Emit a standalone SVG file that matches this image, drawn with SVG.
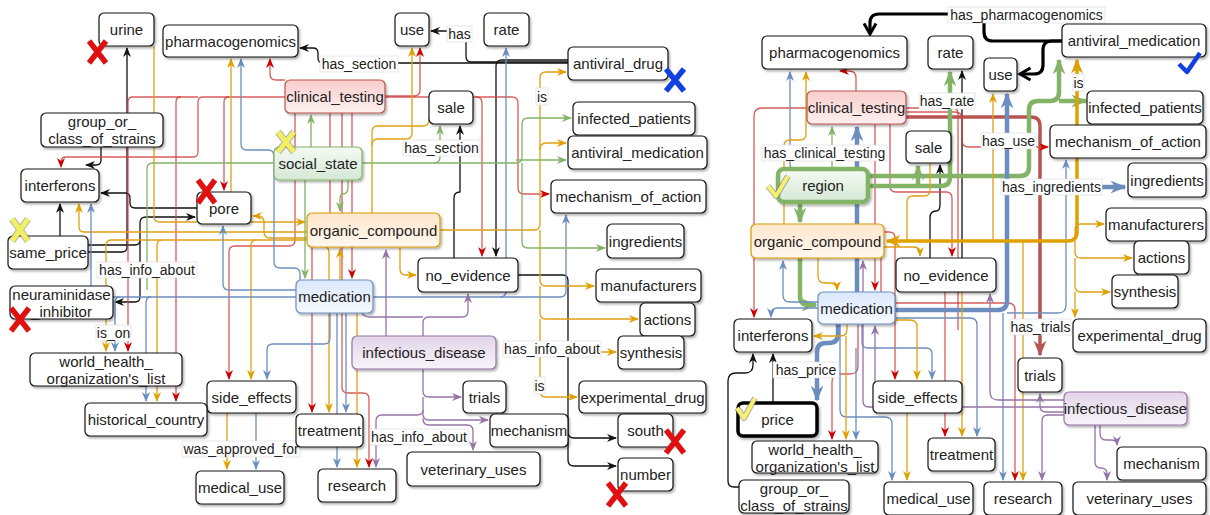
<svg xmlns="http://www.w3.org/2000/svg" width="1210" height="515" viewBox="0 0 1210 515">
<style>
.n rect{fill:#fff;stroke:#111;stroke-width:1.2;filter:url(#sh)}
.n text,.lb text{font-family:"Liberation Sans",Arial,sans-serif;fill:#222;text-anchor:middle;dominant-baseline:central}
.n text{font-size:15px}
.lb text{font-size:14px}
.lb rect{fill:#fff;stroke:#d8d8d8;stroke-width:.6}
.e{fill:none;stroke-width:1.3;stroke-linejoin:round}
.k{stroke:#111;marker-end:url(#mk)}
.r{stroke:#D04040;stroke-opacity:.85;marker-end:url(#mr)}
.o{stroke:#E0A010;marker-end:url(#mo)}
.b{stroke:#6C8EBF;marker-end:url(#mb)}
.g{stroke:#82B366;marker-end:url(#mg)}
.p{stroke:#9673A6;marker-end:url(#mp)}
.nm{marker-end:none}
.K3{stroke:#000;stroke-width:3.2;marker-end:url(#MK)}
.G4{stroke:#82B366;stroke-width:4.5;marker-end:url(#MG)}
.B4{stroke:#6C8EBF;stroke-width:4.5;marker-end:url(#MB)}
.R3{stroke:#B85450;stroke-width:3.5;marker-end:url(#MR)}
.O3{stroke:#E0A000;stroke-width:3.5;marker-end:url(#MO);marker-start:url(#MOs)}
.red rect{fill:url(#gr);stroke:#B85450}
.grn rect{fill:url(#gg);stroke:#82B366}
.org rect{fill:url(#go);stroke:#D79B00}
.blu rect{fill:url(#gb);stroke:#6C8EBF}
.pur rect{fill:url(#gp);stroke:#9673A6}
.xr{stroke:#E01010;stroke-width:5.5;stroke-linecap:butt}
.xb{stroke:#1040E0;stroke-width:5.5}
.xy{stroke:#F2F060;stroke-width:5}
.xo{stroke:#666;stroke-width:7;opacity:.5}
</style>
<defs>
<filter id="sh" x="-20%" y="-20%" width="140%" height="150%"><feDropShadow dx="1.5" dy="2" stdDeviation="1.2" flood-color="#000" flood-opacity="0.3"/></filter>
<linearGradient id="gr" x1="0" y1="0" x2="0" y2="1"><stop offset="0" stop-color="#F8CECC"/><stop offset="1" stop-color="#FDF0EF"/></linearGradient>
<linearGradient id="gg" x1="0" y1="0" x2="0" y2="1"><stop offset="0" stop-color="#F4FAF3"/><stop offset="1" stop-color="#D5E8D4"/></linearGradient>
<linearGradient id="go" x1="0" y1="0" x2="0" y2="1"><stop offset="0" stop-color="#FFE6CC"/><stop offset="1" stop-color="#FFF8F0"/></linearGradient>
<linearGradient id="gb" x1="0" y1="0" x2="0" y2="1"><stop offset="0" stop-color="#DAE8FC"/><stop offset="1" stop-color="#F7FAFF"/></linearGradient>
<linearGradient id="gp" x1="0" y1="0" x2="0" y2="1"><stop offset="0" stop-color="#E1D5E7"/><stop offset="1" stop-color="#F8F4FA"/></linearGradient>
<marker id="mk" viewBox="0 0 10 8" refX="9" refY="4" markerWidth="10" markerHeight="8" markerUnits="userSpaceOnUse" orient="auto"><path d="M0,0 L10,4 L0,8 L3,4 z" fill="#111"/></marker>
<marker id="mr" viewBox="0 0 10 8" refX="9" refY="4" markerWidth="10" markerHeight="8" markerUnits="userSpaceOnUse" orient="auto"><path d="M0,0 L10,4 L0,8 L3,4 z" fill="#CC0000"/></marker>
<marker id="mo" viewBox="0 0 10 8" refX="9" refY="4" markerWidth="10" markerHeight="8" markerUnits="userSpaceOnUse" orient="auto"><path d="M0,0 L10,4 L0,8 L3,4 z" fill="#E0A000"/></marker>
<marker id="mb" viewBox="0 0 10 8" refX="9" refY="4" markerWidth="10" markerHeight="8" markerUnits="userSpaceOnUse" orient="auto"><path d="M0,0 L10,4 L0,8 L3,4 z" fill="#6C8EBF"/></marker>
<marker id="mg" viewBox="0 0 10 8" refX="9" refY="4" markerWidth="10" markerHeight="8" markerUnits="userSpaceOnUse" orient="auto"><path d="M0,0 L10,4 L0,8 L3,4 z" fill="#82B366"/></marker>
<marker id="mp" viewBox="0 0 10 8" refX="9" refY="4" markerWidth="10" markerHeight="8" markerUnits="userSpaceOnUse" orient="auto"><path d="M0,0 L10,4 L0,8 L3,4 z" fill="#9673A6"/></marker>
<marker id="MK" viewBox="0 0 10 10" refX="8" refY="5" markerWidth="15" markerHeight="15" markerUnits="userSpaceOnUse" orient="auto"><path d="M1,1 L8,5 L1,9" fill="none" stroke="#000" stroke-width="2"/></marker>
<marker id="MG" viewBox="0 0 10 8" refX="9" refY="4" markerWidth="16" markerHeight="13" markerUnits="userSpaceOnUse" orient="auto"><path d="M0,0 L10,4 L0,8 L3,4 z" fill="#82B366"/></marker>
<marker id="MB" viewBox="0 0 10 8" refX="9" refY="4" markerWidth="16" markerHeight="13" markerUnits="userSpaceOnUse" orient="auto"><path d="M0,0 L10,4 L0,8 L3,4 z" fill="#6C8EBF"/></marker>
<marker id="MR" viewBox="0 0 10 8" refX="9" refY="4" markerWidth="16" markerHeight="13" markerUnits="userSpaceOnUse" orient="auto"><path d="M0,0 L10,4 L0,8 L3,4 z" fill="#B85450"/></marker>
<marker id="MO" viewBox="0 0 10 8" refX="9" refY="4" markerWidth="15" markerHeight="12" markerUnits="userSpaceOnUse" orient="auto"><path d="M0,0 L10,4 L0,8 L3,4 z" fill="#E0A000"/></marker>
<marker id="MOs" viewBox="0 0 10 8" refX="1" refY="4" markerWidth="15" markerHeight="12" markerUnits="userSpaceOnUse" orient="auto"><path d="M10,0 L0,4 L10,8 L7,4 z" fill="#E0A000"/></marker>
</defs>
<rect width="1210" height="515" fill="#fff"/>

<g id="connectors">
<!-- LEFT black -->
<path class="e k" d="M568,63 H323 Q318,63 318,58 V53 Q318,48 313,48 H300"/>
<path class="e k" d="M568,62 H471 Q466,62 466,56 V36 Q466,31 460,31 H431"/>
<path class="e k" d="M568,60 H502 Q496,60 496,66 V256"/>
<path class="e k" d="M454,258 V198 Q454,192 460,192 V126"/>
<path class="e k" d="M60,236 V204"/>
<path class="e k" d="M88,245 H135 Q140,245 140,240 V223 Q140,217 146,217 H195"/>
<path class="e k" d="M197,208 H135 Q130,208 130,203 V198 Q130,193 125,193 H101"/>
<path class="e k" d="M101,147 V160 Q101,165 96,165 H86"/>
<path class="e k" d="M88,252 H122 Q127,252 127,247 V48"/>
<path class="e k" d="M140,240 V297 Q140,302 135,302 H115"/>
<path class="e k" d="M518,275 H563 Q568,275 568,281 V432 Q568,438 574,438 H616"/>
<path class="e k" d="M568,438 V460 Q568,466 574,466 H616"/>
<!-- LEFT red -->
<path class="e r" d="M385,96 H414 Q420,96 420,90 V48"/>
<path class="e r" d="M285,80 H276 Q270,80 270,74 V59"/>
<path class="e r" d="M285,97 H203 Q198,97 198,102 V152 Q198,157 193,157 H66 Q61,157 61,162 V167"/>
<path class="e r" d="M198,97 H133 Q128,97 128,102 V351"/>
<path class="e r" d="M181,97 Q176,97 176,102 V401"/>
<path class="e r" d="M229,97 Q224,97 224,102 V190"/>
<path class="e r" d="M295,113 V240 Q295,246 289,246 H235 Q229,246 229,252 V379"/>
<path class="e r" d="M352,113 V278"/>
<path class="e r" d="M385,97 H512 Q518,97 518,103 V188 Q518,194 524,194 H549"/>
<path class="e r" d="M476,97 Q482,97 482,103 V256"/>
<path class="e r" d="M330,113 V230 Q330,236 324,236 H318 Q312,236 312,242 V412"/>
<path class="e r" d="M342,113 V387 Q342,393 348,393 H363 Q369,393 369,399 V467"/>
<!-- LEFT orange -->
<path class="e o" d="M372,213 V145 Q372,139 378,139 H406 Q412,139 412,133 V48"/>
<path class="e o nm" d="M372,145 V132 Q372,126 378,126 H423 Q429,126 429,120 V118"/>
<path class="e o" d="M440,230 H534 Q540,230 540,224 V78 Q540,72 546,72 H566"/>
<path class="e o" d="M540,150 Q540,143 546,143 H566"/>
<path class="e o" d="M540,230 V280 Q540,286 546,286 H594"/>
<path class="e o" d="M540,286 V313 Q540,319 546,319 H638"/>
<path class="e o" d="M540,319 V346 Q540,352 546,352 H616"/>
<path class="e o" d="M540,352 V391 Q540,397 546,397 H577"/>
<path class="e o" d="M400,247 V269 Q400,275 406,275 H416"/>
<path class="e o" d="M307,232 H84 Q79,232 79,227 V204"/>
<path class="e o" d="M251,222 H305"/>
<path class="e o" d="M307,238 H270 Q264,238 264,232 V222 Q264,216 258,216 H253"/>
<path class="e o" d="M231,192 V59"/>
<path class="e o nm" d="M154,46 V217 Q154,222 160,222 H197"/>
<path class="e o" d="M307,240 H111 Q106,240 106,246 V351"/>
<path class="e o" d="M162,240 Q157,240 157,246 V401"/>
<path class="e o" d="M256,240 Q251,240 251,246 V379"/>
<path class="e o" d="M325,247 Q329,247 329,253 V412"/>
<path class="e o" d="M357,313 V467"/>
<path class="e o" d="M340,280 V249"/>
<path class="e o" d="M227,413 V469"/>
<!-- LEFT blue -->
<path class="e b" d="M300,280 V274 Q300,268 294,268 H280 Q274,268 274,262 V156 Q274,150 268,150 H247 Q241,150 241,144 V59"/>
<path class="e b" d="M296,297 H151 Q146,297 146,303 V401"/>
<path class="e b" d="M151,297 H120 Q115,297 115,303 V351"/>
<path class="e b" d="M120,297 H96 Q91,297 91,291 V204"/>
<path class="e b" d="M373,297 H500 Q506,297 506,291 V48"/>
<path class="e b" d="M500,297 H560 Q566,297 566,291 V215"/>
<path class="e b" d="M296,290 H229 Q223,290 223,284 V226"/>
<path class="e b" d="M330,313 V338 Q330,344 324,344 H273 Q267,344 267,350 V379"/>
<path class="e b" d="M346,313 V412"/>
<path class="e b" d="M337,313 V467"/>
<path class="e b" d="M256,413 V469"/>
<!-- LEFT green -->
<path class="e g" d="M311,147 V115"/>
<path class="e g" d="M305,180 V278"/>
<path class="e g" d="M348,180 V188 Q348,194 342,194 Q340,194 340,200 V211"/>
<path class="e g" d="M362,163 H434 Q440,163 440,157 V126"/>
<path class="e g" d="M434,163 H516 Q522,163 522,157 V124 Q522,118 528,118 H571"/>
<path class="e g" d="M516,160 H566"/>
<path class="e g" d="M522,163 V242 Q522,248 528,248 H605"/>
<path class="e g nm" d="M274,163 H153 Q147,163 147,169 V290"/>
<!-- LEFT purple -->
<path class="e p" d="M386,336 V250"/>
<path class="e p" d="M423,336 V323 Q423,317 429,317 H462 Q468,317 468,311 V294"/>
<path class="e p nm" d="M423,317 H370 Q364,317 362,313"/>
<path class="e p" d="M423,369 V391 Q423,397 429,397 H461"/>
<path class="e p" d="M423,397 V414 Q423,420 429,420 H488"/>
<path class="e p" d="M423,420 V419 Q423,425 429,425 H467 Q473,425 473,431 V450"/>
<path class="e p" d="M423,410 Q423,415 417,415 H382 Q376,415 376,421 V467"/>

<!-- RIGHT black -->
<path class="e K3" d="M1062,41 H993 Q984,41 984,32 V23 Q984,14 975,14 H879 Q870,14 870,23 V34"/>
<path class="e K3" d="M1062,41 H1052 Q1043,41 1043,50 V65 Q1043,74 1034,74 H1020"/>
<path class="e k" d="M739,487 H734 Q728,487 728,481 V381 Q728,373 736,373 H745 Q753,373 753,365 V354"/>
<path class="e k" d="M773,403 V354"/>
<path class="e k" d="M930,258 V218 Q930,211 936,211 Q940,211 940,205 V165"/>
<path class="e k" d="M962,258 V71"/>
<!-- RIGHT red -->
<path class="e R3" d="M906,117 H1031 Q1040,117 1040,126 V355"/>
<path class="e r" d="M856,91 V78 Q856,71 849,71 H840"/>
<path class="e r" d="M807,108 H762 Q754,108 754,116 V317"/>
<path class="e r nm" d="M906,108 H952 Q958,108 958,114 V330"/>
<path class="e r" d="M906,112 H955 Q962,112 962,119 V140 Q962,147 969,147 H1048"/>
<path class="e r" d="M890,124 V186 Q890,192 896,192 H946 Q952,192 952,198 V256"/>
<path class="e r" d="M875,124 V290"/>
<path class="e r" d="M884,236 Q881,236 881,243 V297 Q881,303 887,303 H1008 Q1015,303 1015,310 V480"/>
<path class="e r" d="M884,232 H889 Q895,232 895,238 V379"/>
<path class="e r" d="M858,324 V366 Q858,374 850,374 H840 Q832,374 832,382 V439"/>
<path class="e r" d="M945,292 V436"/>
<!-- RIGHT green -->
<path class="e G4" d="M868,176 H1020 Q1029,176 1029,167 V110 Q1029,101 1038,101 H1050 Q1059,101 1059,92 V60"/>
<path class="e G4" d="M1059,101 H1086"/>
<path class="e G4" d="M868,186 H941 Q950,186 950,177 V72"/>
<path class="e G4" d="M918,186 V166"/>
<path class="e G4" d="M800,202 V222"/>
<path class="e G4" d="M800,258 V296 Q800,305 809,305 H816"/>
<path class="e g" d="M832,169 V127"/>
<!-- RIGHT blue -->
<path class="e B4" d="M857,292 V127"/>
<path class="e B4" d="M895,310 H998 Q1007,310 1007,301 V94"/>
<path class="e B4" d="M1007,187 H1125"/>
<path class="e B4" d="M838,324 V334 Q838,343 829,343 H826 Q817,343 817,352 V400"/>
<path class="e b" d="M857,170 H796 Q790,170 790,164 V72"/>
<path class="e b" d="M818,302 H790 Q783,302 783,295 V261"/>
<path class="e b" d="M818,308 H778 Q771,308 771,314 V317"/>
<path class="e b" d="M1007,313 H1058 Q1066,313 1066,305 V160"/>
<path class="e b" d="M895,318 H970 Q977,318 977,325 V436"/>
<path class="e b" d="M862,324 V342 Q862,348 868,348 H926 Q932,348 932,354 V379"/>
<path class="e b" d="M856,348 V439"/>
<path class="e b" d="M840,324 V410 Q840,417 847,417 H885 Q892,417 892,424 V480"/>
<path class="e b" d="M1003,313 V480"/>
<!-- RIGHT orange -->
<path class="e O3" d="M887,241 H1068 Q1077,241 1077,232 V60"/>
<path class="e o" d="M784,224 V146 Q784,140 790,140 H800 Q806,140 806,134 V72"/>
<path class="e o" d="M884,247 H913 Q920,247 920,252 V256"/>
<path class="e o" d="M993,241 V94"/>
<path class="e o" d="M1070,241 Q1075,241 1075,235 V230 Q1075,224 1081,224 H1104"/>
<path class="e o" d="M1075,241 V252 Q1075,258 1081,258 H1132"/>
<path class="e o" d="M1075,258 V286 Q1075,292 1081,292 H1110"/>
<path class="e o" d="M1075,292 V317"/>
<path class="e o" d="M1023,241 V480"/>
<path class="e o" d="M962,292 V436"/>
<path class="e o" d="M818,258 V276 Q818,283 825,283 H830 Q837,283 837,290"/>
<path class="e o" d="M847,324 V330 Q847,336 840,336 H814"/>
<path class="e o" d="M846,336 V439"/>
<path class="e o" d="M895,320 H910 Q917,320 917,327 V379"/>
<path class="e o" d="M907,413 V480"/>
<path class="e o nm" d="M930,163 V190 Q930,196 924,196 H913 Q907,196 907,202 V241"/>
<!-- RIGHT purple -->
<path class="e p" d="M1064,407 H869 Q863,407 863,401 V261"/>
<path class="e p" d="M875,407 V326"/>
<path class="e p" d="M1064,400 H998 Q990,400 990,392 V294"/>
<path class="e p" d="M1064,412 H1046 Q1040,412 1040,406 V394"/>
<path class="e p" d="M1064,415 H1048 Q1042,415 1042,421 V480"/>
<path class="e p" d="M1100,425 V433 Q1100,440 1106,440 H1111 Q1117,440 1117,445"/>
<path class="e p" d="M1095,425 V462 Q1095,468 1101,468 Q1107,468 1107,474 V480"/>

<!-- edge labels -->
<g class="lb">
<rect x="320" y="56" width="78" height="16"/><text x="359" y="64">has_section</text>
<rect x="447" y="26" width="25" height="16"/><text x="459.5" y="34">has</text>
<rect x="536" y="88" width="12" height="17"/><text x="542" y="96.5">is</text>
<rect x="403" y="140" width="77" height="16"/><text x="441.5" y="148">has_section</text>
<rect x="97" y="262" width="100" height="16"/><text x="147" y="270">has_info_about</text>
<rect x="96" y="325" width="35" height="16"/><text x="113.5" y="333">is_on</text>
<rect x="503" y="341" width="98" height="16"/><text x="552" y="349">has_info_about</text>
<rect x="534" y="377" width="11" height="17"/><text x="539.5" y="385.5">is</text>
<rect x="370" y="429" width="98" height="16"/><text x="419" y="437">has_info_about</text>
<rect x="182" y="441" width="118" height="16"/><text x="241" y="449">was_approved_for</text>
<rect x="948" y="7" width="157" height="16"/><text x="1026.5" y="15">has_pharmacogenomics</text>
<rect x="919" y="93" width="56" height="16"/><text x="947" y="101">has_rate</text>
<rect x="981" y="133" width="55" height="16"/><text x="1008.5" y="141">has_use</text>
<rect x="762" y="145" width="125" height="16"/><text x="824.5" y="153">has_clinical_testing</text>
<rect x="1001" y="179" width="101" height="16"/><text x="1051.5" y="187">has_ingredients</text>
<rect x="1073" y="74" width="11" height="17"/><text x="1078.5" y="82.5">is</text>
<rect x="1010" y="319" width="61" height="16"/><text x="1040.5" y="327">has_trials</text>
<rect x="773" y="362" width="66" height="16"/><text x="806" y="370">has_price</text>
</g>
</g>

<!-- LEFT nodes -->
<g id="L-urine" class="n"><rect x="99" y="13" width="55" height="33" rx="5"/><text x="126.5" y="29.5">urine</text></g>
<g id="L-pharmacogenomics" class="n"><rect x="163" y="25" width="135" height="32" rx="5"/><text x="230.5" y="41">pharmacogenomics</text></g>
<g id="L-use" class="n"><rect x="395" y="13" width="34" height="33" rx="5"/><text x="412" y="29.5">use</text></g>
<g id="L-rate" class="n"><rect x="484" y="13" width="45" height="33" rx="5"/><text x="506.5" y="29.5">rate</text></g>
<g id="L-antiviral_drug" class="n"><rect x="568" y="47" width="100" height="33" rx="5"/><text x="618" y="63.5">antiviral_drug</text></g>
<g id="L-clinical_testing" class="n red"><rect x="285" y="80" width="100" height="33" rx="5"/><text x="335" y="96.5">clinical_testing</text></g>
<g id="L-sale" class="n"><rect x="429" y="91" width="44" height="33" rx="5"/><text x="451" y="107.5">sale</text></g>
<g id="L-infected_patients" class="n"><rect x="573" y="102" width="122" height="33" rx="5"/><text x="634" y="118.5">infected_patients</text></g>
<g id="L-group_or_class_of_strains" class="n"><rect x="41" y="113" width="122" height="34" rx="5"/><text x="102" y="121.5">group_or_</text><text x="102" y="138.5">class_of_strains</text></g>
<g id="L-antiviral_medication" class="n"><rect x="568" y="136" width="139" height="33" rx="5"/><text x="637.5" y="152.5">antiviral_medication</text></g>
<g id="L-social_state" class="n grn"><rect x="274" y="147" width="88" height="33" rx="5"/><text x="318" y="163.5">social_state</text></g>
<g id="L-interferons" class="n"><rect x="21" y="169" width="78" height="33" rx="5"/><text x="60" y="185.5">interferons</text></g>
<g id="L-mechanism_of_action" class="n"><rect x="551" y="180" width="155" height="33" rx="5"/><text x="628.5" y="196.5">mechanism_of_action</text></g>
<g id="L-pore" class="n"><rect x="197" y="192" width="54" height="32" rx="5"/><text x="224" y="208">pore</text></g>
<g id="L-organic_compound" class="n org"><rect x="307" y="213" width="133" height="34" rx="5"/><text x="373.5" y="230">organic_compound</text></g>
<g id="L-ingredients" class="n"><rect x="607" y="224" width="77" height="34" rx="5"/><text x="645.5" y="241">ingredients</text></g>
<g id="L-same_price" class="n"><rect x="8" y="236" width="80" height="33" rx="5"/><text x="48" y="252.5">same_price</text></g>
<g id="L-no_evidence" class="n"><rect x="418" y="258" width="100" height="34" rx="5"/><text x="468" y="275">no_evidence</text></g>
<g id="L-manufacturers" class="n"><rect x="596" y="269" width="105" height="33" rx="5"/><text x="648.5" y="285.5">manufacturers</text></g>
<g id="L-medication" class="n blu"><rect x="296" y="280" width="77" height="33" rx="5"/><text x="334.5" y="296.5">medication</text></g>
<g id="L-neuraminidase_inhibitor" class="n"><rect x="10" y="286" width="103" height="33" rx="5"/><text x="61.5" y="294">neuraminidase</text><text x="61.5" y="311">_inhibitor</text></g>
<g id="L-actions" class="n"><rect x="640" y="303" width="55" height="33" rx="5"/><text x="667.5" y="319.5">actions</text></g>
<g id="L-infectious_disease" class="n pur"><rect x="352" y="336" width="144" height="33" rx="5"/><text x="424" y="352.5">infectious_disease</text></g>
<g id="L-synthesis" class="n"><rect x="618" y="336" width="66" height="33" rx="5"/><text x="651" y="352.5">synthesis</text></g>
<g id="L-world_health_organizations_list" class="n"><rect x="30" y="353" width="152" height="33" rx="5"/><text x="106" y="361">world_health_</text><text x="106" y="378">organization's_list</text></g>
<g id="L-side_effects" class="n"><rect x="207" y="381" width="89" height="32" rx="5"/><text x="251.5" y="397">side_effects</text></g>
<g id="L-trials" class="n"><rect x="463" y="381" width="43" height="32" rx="5"/><text x="484.5" y="397">trials</text></g>
<g id="L-experimental_drug" class="n"><rect x="579" y="381" width="127" height="32" rx="5"/><text x="642.5" y="397">experimental_drug</text></g>
<g id="L-historical_country" class="n"><rect x="85" y="403" width="122" height="33" rx="5"/><text x="146" y="419.5">historical_country</text></g>
<g id="L-treatment" class="n"><rect x="296" y="414" width="67" height="33" rx="5"/><text x="329.5" y="430.5">treatment</text></g>
<g id="L-mechanism" class="n"><rect x="490" y="414" width="78" height="33" rx="5"/><text x="529" y="430.5">mechanism</text></g>
<g id="L-south" class="n"><rect x="618" y="414" width="55" height="33" rx="5"/><text x="645.5" y="430.5">south</text></g>
<g id="L-veterinary_uses" class="n"><rect x="407" y="452" width="133" height="34" rx="5"/><text x="473.5" y="469">veterinary_uses</text></g>
<g id="L-number" class="n"><rect x="618" y="458" width="55" height="33" rx="5"/><text x="645.5" y="474.5">number</text></g>
<g id="L-research" class="n"><rect x="318" y="469" width="78" height="33" rx="5"/><text x="357" y="485.5">research</text></g>
<g id="L-medical_use" class="n"><rect x="196" y="471" width="88" height="33" rx="5"/><text x="240" y="487.5">medical_use</text></g>

<!-- RIGHT nodes -->
<g id="R-antiviral_medication" class="n"><rect x="1062" y="24" width="144" height="33" rx="5"/><text x="1134" y="40.5">antiviral_medication</text></g>
<g id="R-pharmacogenomics" class="n"><rect x="762" y="36" width="145" height="33" rx="5"/><text x="834.5" y="52.5">pharmacogenomics</text></g>
<g id="R-rate" class="n"><rect x="928" y="36" width="45" height="33" rx="5"/><text x="950.5" y="52.5">rate</text></g>
<g id="R-use" class="n"><rect x="984" y="58" width="33" height="33" rx="5"/><text x="1000.5" y="74.5">use</text></g>
<g id="R-clinical_testing" class="n red"><rect x="807" y="91" width="99" height="33" rx="5"/><text x="856.5" y="107.5">clinical_testing</text></g>
<g id="R-infected_patients" class="n"><rect x="1087" y="91" width="116" height="33" rx="5"/><text x="1145" y="107.5">infected_patients</text></g>
<g id="R-mechanism_of_action" class="n"><rect x="1050" y="125" width="156" height="33" rx="5"/><text x="1128" y="141.5">mechanism_of_action</text></g>
<g id="R-sale" class="n"><rect x="906" y="131" width="45" height="32" rx="5"/><text x="928.5" y="147">sale</text></g>
<g id="R-ingredients" class="n"><rect x="1128" y="163" width="78" height="34" rx="5"/><text x="1167" y="180">ingredients</text></g>
<g id="R-region" class="n grn"><rect x="778" y="169" width="90" height="33" rx="6" style="stroke-width:4.5"/><text x="823" y="185.5">region</text></g>
<g id="R-manufacturers" class="n"><rect x="1106" y="208" width="100" height="33" rx="5"/><text x="1156" y="224.5">manufacturers</text></g>
<g id="R-organic_compound" class="n org"><rect x="751" y="224" width="133" height="34" rx="5"/><text x="817.5" y="241">organic_compound</text></g>
<g id="R-actions" class="n"><rect x="1134" y="241" width="55" height="33" rx="5"/><text x="1161.5" y="257.5">actions</text></g>
<g id="R-no_evidence" class="n"><rect x="896" y="258" width="100" height="34" rx="5"/><text x="946" y="275">no_evidence</text></g>
<g id="R-synthesis" class="n"><rect x="1112" y="275" width="66" height="33" rx="5"/><text x="1145" y="291.5">synthesis</text></g>
<g id="R-medication" class="n blu"><rect x="818" y="292" width="77" height="32" rx="5"/><text x="856.5" y="308">medication</text></g>
<g id="R-interferons" class="n"><rect x="734" y="319" width="78" height="33" rx="5"/><text x="773" y="335.5">interferons</text></g>
<g id="R-experimental_drug" class="n"><rect x="1073" y="319" width="133" height="33" rx="5"/><text x="1139.5" y="335.5">experimental_drug</text></g>
<g id="R-trials" class="n"><rect x="1018" y="358" width="44" height="34" rx="5"/><text x="1040" y="375">trials</text></g>
<g id="R-side_effects" class="n"><rect x="873" y="381" width="89" height="32" rx="5"/><text x="917.5" y="397">side_effects</text></g>
<g id="R-infectious_disease" class="n pur"><rect x="1064" y="392" width="123" height="33" rx="5"/><text x="1125.5" y="408.5">infectious_disease</text></g>
<g id="R-price" class="n"><rect x="738" y="403" width="79" height="33" rx="5" style="stroke-width:3.5;stroke:#000"/><text x="777.5" y="419.5">price</text></g>
<g id="R-treatment" class="n"><rect x="928" y="438" width="67" height="33" rx="5"/><text x="961.5" y="454.5">treatment</text></g>
<g id="R-world_health_organizations_list" class="n"><rect x="752" y="441" width="126" height="32" rx="5"/><text x="815" y="449">world_health_</text><text x="815" y="466">organization's_list</text></g>
<g id="R-mechanism" class="n"><rect x="1117" y="447" width="89" height="33" rx="5"/><text x="1161.5" y="463.5">mechanism</text></g>
<g id="R-group_or_class_of_strains" class="n"><rect x="739" y="480" width="110" height="33" rx="5"/><text x="794" y="488">group_or_</text><text x="794" y="505">class_of_strains</text></g>
<g id="R-medical_use" class="n"><rect x="884" y="482" width="89" height="33" rx="5"/><text x="928.5" y="498.5">medical_use</text></g>
<g id="R-research" class="n"><rect x="984" y="482" width="78" height="33" rx="5"/><text x="1023" y="498.5">research</text></g>
<g id="R-veterinary_uses" class="n"><rect x="1073" y="482" width="133" height="33" rx="5"/><text x="1139.5" y="498.5">veterinary_uses</text></g>

<!-- marks -->
<g id="marks" fill="none">
<g class="xr"><path d="M89,41 L106,63 M106,41 L89,63"/><path d="M198,180 L215,203 M215,180 L198,203"/><path d="M11,308 L29,331 M29,308 L11,331"/><path d="M666,430 L684,453 M684,430 L666,453"/><path d="M608,483 L626,506 M626,483 L608,506"/></g>
<g class="xb"><path d="M666,69 L684,91 M684,69 L666,91"/></g>
<g class="xo"><path d="M278,132 L294,152 M294,132 L278,152"/><path d="M12,219 L28,241 M28,219 L12,241"/></g>
<g class="xy"><path d="M278,132 L294,152 M294,132 L278,152"/><path d="M12,219 L28,241 M28,219 L12,241"/></g>
<path d="M768,186 L776,196 L788,176" stroke="#777" stroke-width="6" stroke-linejoin="round" opacity=".6"/>
<path d="M768,186 L776,196 L788,176" stroke="#F5F070" stroke-width="4" stroke-linejoin="round"/>
<path d="M737,408 L744,418 L755,398" stroke="#777" stroke-width="6" stroke-linejoin="round" opacity=".6"/>
<path d="M737,408 L744,418 L755,398" stroke="#F5F070" stroke-width="4" stroke-linejoin="round"/>
<path d="M1179,64 L1187,72 L1200,53" stroke="#1040E0" stroke-width="4.5" stroke-linejoin="round"/>
</g>
</svg>
